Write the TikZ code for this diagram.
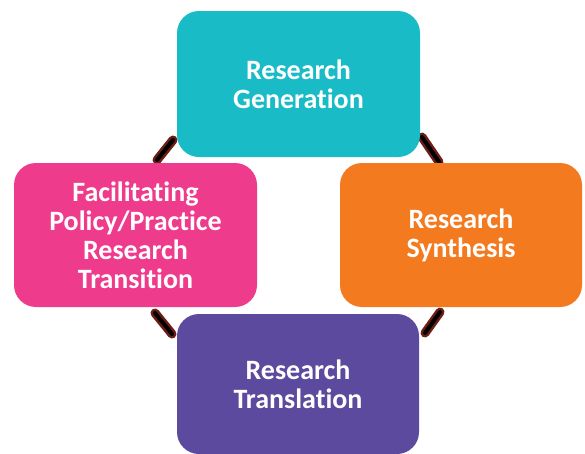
\documentclass[tikz,border=0pt]{standalone}
\usepackage{fontspec}
\setmainfont[Ligatures={NoCommon,NoDiscretionary,NoRare}]{Carlito}
\definecolor{cgen}{HTML}{19BCC6}
\definecolor{csyn}{HTML}{F47A20}
\definecolor{cfac}{HTML}{EE3B8C}
\definecolor{ctra}{HTML}{5B4A9E}
\definecolor{chalo}{HTML}{6E1E12}
\begin{document}
\begin{tikzpicture}[x=1pt,y=-1pt,
  box/.style={rectangle, rounded corners=22pt, inner sep=0pt, align=center,
    text=white, font=\bfseries\fontsize{28}{29}\selectfont},
  halo/.style={draw=chalo, line width=9pt, line cap=round},
  core/.style={draw=black, line width=4pt, line cap=round}]
\useasboundingbox[fill=white] (0,0) rectangle (585,453);
% connector end points
\coordinate (c1a) at (157,160); \coordinate (c1b) at (173,140);
\coordinate (c2a) at (422,137); \coordinate (c2b) at (439,162);
\coordinate (c3a) at (155,313); \coordinate (c3b) at (172,334);
\coordinate (c4a) at (440,312); \coordinate (c4b) at (425,333);
\foreach \a/\b in {c1a/c1b,c2a/c2b,c3a/c3b,c4a/c4b}{
  \draw[halo] (\a) -- (\b);
  \draw[core] (\a) -- (\b);
}
\node[box, fill=cgen, minimum width=243pt, minimum height=146pt] (gen) at (298.5,84) {Research\\Generation};
\node[box, fill=csyn, minimum width=242pt, minimum height=144pt] (syn) at (461,235) {Research\\Synthesis};
\node[box, fill=cfac, minimum width=243pt, minimum height=144pt] (fac) at (135.5,235) {Facilitating\\Policy/Practice\\Research\\Transition};
\begin{scope}
\clip (0,0) rectangle (585,453);
\node[box, fill=ctra, minimum width=242pt, minimum height=140pt] (tra) at (298,384) {Research\\Translation};
\end{scope}
\end{tikzpicture}
\end{document}
